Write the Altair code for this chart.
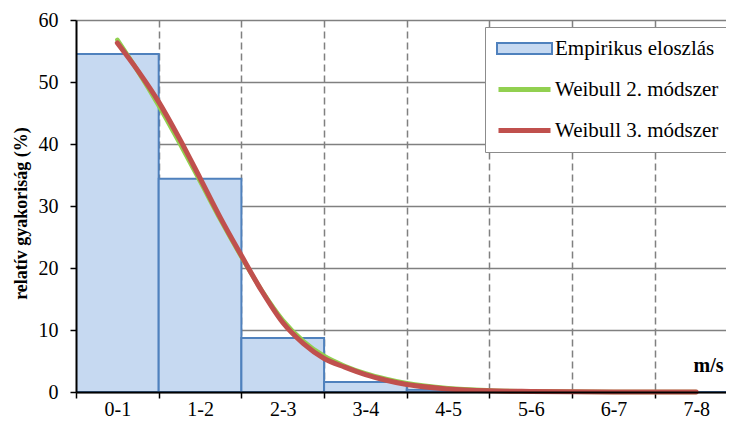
import json
import altair as alt
import pandas as pd

# ---- data ----
bins = ["0-1", "1-2", "2-3", "3-4", "4-5", "5-6", "6-7", "7-8"]
bin_start = [0, 1, 2, 3, 4, 5, 6, 7]
bin_end = [1, 2, 3, 4, 5, 6, 7, 8]
empirical = [54.5, 34.4, 8.7, 1.6, 0.35, 0.05, 0.0, 0.0]

curve_x = [0.5, 0.75, 1, 1.25, 1.5, 1.75, 2, 2.25, 2.5, 2.75, 3, 3.25, 3.5,
           3.75, 4, 4.5, 5, 5.5, 6, 6.5, 7, 7.5]
weibull2 = [56.8, 51.7, 46.2, 40.2, 34.0, 27.7, 21.8, 16.3, 11.6, 8.2, 5.8, 4.2,
            3.0, 2.1, 1.4, 0.6, 0.25, 0.1, 0.05, 0.02, 0.01, 0.0]
weibull3 = [56.3, 51.8, 46.8, 40.9, 34.5, 28.0, 22.0, 16.2, 11.2, 7.8, 5.4, 4.0,
            2.8, 1.9, 1.2, 0.5, 0.2, 0.1, 0.05, 0.02, 0.01, 0.0]

series_names = ["Empirikus eloszlás", "Weibull 2. módszer", "Weibull 3. módszer"]
series_colors = ["#4f81bd", "#92d050", "#c0504d"]
bar_fill = "#c6d9f1"
y_ticks = [0, 10, 20, 30, 40, 50, 60]
x_visible_max = 7.86   # the reference crops the last band at the right edge

FONT = "'Liberation Serif', 'Times New Roman', Times, serif"

df_bars = pd.DataFrame({"bin": bins, "start": bin_start, "end": bin_end,
                        "value": empirical, "series": series_names[0]})
df_w2 = pd.DataFrame({"x": curve_x, "value": weibull2, "series": series_names[1]})
df_w3 = pd.DataFrame({"x": curve_x, "value": weibull3, "series": series_names[2]})

x_scale = alt.Scale(domain=[0, x_visible_max], nice=False, zero=False)
y_scale = alt.Scale(domain=[0, 60], nice=False)
color_scale = alt.Scale(domain=series_names, range=series_colors)

is_int = "datum.value % 1 == 0"
x_values = [i * 0.5 for i in range(16)]
label_expr = f"datum.value % 1 == 0.5 ? {json.dumps(bins)}[floor(datum.value)] : ''"

x_axis_main = alt.Axis(
    values=x_values, labelExpr=label_expr, labelOverlap=False, labelFlush=False,
    labelFont=FONT, labelFontSize=20, labelColor="black", labelPadding=1,
    tickColor="black", tickSize=6, tickWidth=1.5,
    tickOpacity={"condition": {"test": is_int, "value": 1}, "value": 0},
    grid=True, gridColor="#808080", gridWidth=1.5, gridDash=[7, 4],
    gridOpacity={"condition": {"test": f"{is_int} && datum.value > 0", "value": 1}, "value": 0},
    domain=False,
    title="m/s", titleFont=FONT, titleFontSize=20, titleFontWeight="bold",
    titleColor="black", titleX=647, titleY=-21, titleAlign="right",
    titleBaseline="alphabetic",
)
x_axis_line = alt.Axis(orient="bottom", grid=False, ticks=False, labels=False,
                       domain=True, domainColor="black", domainWidth=2,
                       title=None, zindex=1)

y_axis_main = alt.Axis(
    values=y_ticks, labelFont=FONT, labelFontSize=20, labelColor="black",
    labelPadding=12, tickColor="black", tickSize=6, tickWidth=1.5,
    grid=True, gridColor="#808080", gridWidth=1.5, domain=False,
    title="relatív gyakoriság (%)", titleFont=FONT, titleFontSize=18,
    titleFontWeight="bold", titleColor="black", titleX=-55, titleY=193,
    titleBaseline="middle", titleAlign="center",
)
y_axis_line = alt.Axis(orient="left", grid=False, ticks=False, labels=False,
                       domain=True, domainColor="black", domainWidth=2,
                       title=None, zindex=1)

is_emp = f"datum.value == '{series_names[0]}'"
legend = alt.Legend(
    orient="none", legendX=409, legendY=7, title=None,
    fillColor="white", strokeColor="#8c8c8c", padding=11,
    symbolType={"expr": f"({is_emp} ? 'M-1,-0.2H1V0.2H-1Z' : 'stroke')"},
    symbolStrokeWidth={"expr": f"({is_emp} ? 2 : 5)"},
    symbolSize={"expr": f"({is_emp} ? 3025 : 2704)"},
    symbolFillColor=bar_fill, symbolOpacity=1,
    labelFont=FONT, labelFontSize=21, labelColor="black", labelOffset=2,
    labelLimit=400, rowPadding=19, clipHeight=21,
)

bars = alt.Chart(df_bars).mark_bar(
    fill=bar_fill, stroke=series_colors[0], strokeWidth=2, clip=True
).encode(
    x=alt.X("start:Q", scale=x_scale, axis=x_axis_main),
    x2="end:Q",
    y=alt.Y("value:Q", scale=y_scale, axis=y_axis_main),
    y2=alt.datum(0),
)

line_w2 = alt.Chart(df_w2).mark_line(
    strokeWidth=4.5, strokeCap="round", interpolate="monotone"
).encode(
    x=alt.X("x:Q", scale=x_scale, axis=None),
    y=alt.Y("value:Q", scale=y_scale, axis=None),
    color=alt.Color("series:N", scale=color_scale, legend=legend),
)

line_w3 = alt.Chart(df_w3).mark_line(
    strokeWidth=5, strokeCap="round", interpolate="monotone"
).encode(
    x=alt.X("x:Q", scale=x_scale, axis=x_axis_line),
    y=alt.Y("value:Q", scale=y_scale, axis=y_axis_line),
    color=alt.Color("series:N", scale=color_scale, legend=None),
)

chart = alt.layer(bars, line_w2, line_w3).resolve_axis(
    x="independent", y="independent"
).properties(
    width=650, height=372,
    autosize=alt.AutoSizeParams(type="none"),
    padding={"left": 68, "top": 12, "right": 0, "bottom": 29},
    background="white",
).configure_view(stroke=None).configure(font=FONT)

chart.save("out.html", embed_options={"renderer": "svg", "actions": False})
